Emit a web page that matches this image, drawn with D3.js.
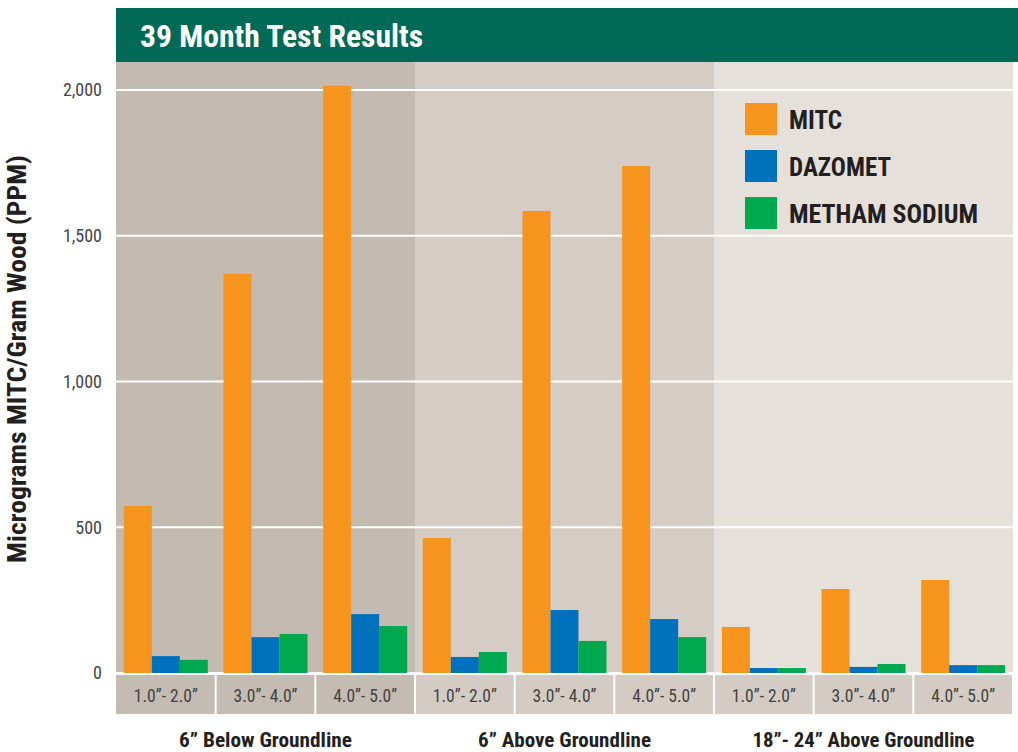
<!DOCTYPE html>
<html><head><meta charset="utf-8">
<script src="https://cdn.jsdelivr.net/npm/d3@7"></script>
<style>
body{margin:0;background:#fff;}
svg text{font-family:"Liberation Sans Narrow","Roboto Condensed","Arial Narrow",sans-serif;}
</style></head><body>
<svg id="c" width="1018" height="752"></svg>
<script>
const categories = ["1.0\u201d- 2.0\u201d","3.0\u201d- 4.0\u201d","4.0\u201d- 5.0\u201d","1.0\u201d- 2.0\u201d","3.0\u201d- 4.0\u201d","4.0\u201d- 5.0\u201d","1.0\u201d- 2.0\u201d","3.0\u201d- 4.0\u201d","4.0\u201d- 5.0\u201d"];
const groups = ["6\u201d Below Groundline","6\u201d Above Groundline","18\u201d- 24\u201d Above Groundline"];
const seriesNames = ["MITC","DAZOMET","METHAM SODIUM"];
const mitc = [573,1369,2014,463,1585,1739,158,288,319];
const dazomet = [58,123,202,55,216,185,17,21,27];
const metham = [45,134,161,72,110,123,17,31,27];
const yTicks = [0,500,1000,1500,2000];

const colors = ["#f7941d","#0071bc","#00a94f"];
const groupBg = ["#c3bab1","#d4ccc5","#e6e0da"];
const boxBg = ["#c4bbb2","#d3cbc4","#d3cbc4"];
const groupLabelW = [173,173,222];
const legendW = [53,102,189];

const svg = d3.select("#c");
const L=116, R=1013, T=62, B=673;
const x = d3.scaleBand().domain(d3.range(categories.length)).range([L,R]).paddingInner(0).paddingOuter(0);
const xs = d3.scaleBand().domain(d3.range(3)).range([0,x.bandwidth()]).paddingInner(0).paddingOuter(0.28);
const y = d3.scaleLinear().domain([0,2000]).range([B,90]);

// title band
svg.append("rect").attr("x",L).attr("y",8).attr("width",1018-L).attr("height",54).attr("fill","#006a56");
svg.append("text").attr("x",140).attr("y",47).attr("fill","#fff").attr("font-size",31).attr("font-weight","bold")
  .attr("textLength",283).attr("lengthAdjust","spacingAndGlyphs").text("39 Month Test Results");

// group backgrounds
groups.forEach((g,i)=>{
  const x0 = x(i*3), x1 = x(i*3+2)+x.bandwidth();
  svg.append("rect").attr("x",x0).attr("y",T).attr("width",x1-x0).attr("height",B-T).attr("fill",groupBg[i]);
  svg.append("text").attr("x",(x0+x1)/2-groupLabelW[i]/2).attr("y",747).attr("font-size",20).attr("font-weight","bold").attr("fill","#231f20")
    .attr("textLength",groupLabelW[i]).attr("lengthAdjust","spacingAndGlyphs").text(g);
});

// gridlines
svg.append("g").selectAll("line").data(yTicks).join("line")
  .attr("x1",L).attr("x2",R).attr("y1",d=>y(d)).attr("y2",d=>y(d)).attr("stroke","#fff").attr("stroke-width",2);

// y axis labels
const yAxis = d3.axisLeft(y).tickValues(yTicks).tickFormat(d3.format(",")).tickSize(0).tickPadding(14);
const ya = svg.append("g").attr("transform",`translate(${L},0)`).call(yAxis);
ya.select(".domain").remove();
ya.selectAll("text").attr("font-size",18).attr("fill","#444").style("font-family","'Liberation Sans Narrow','Roboto Condensed','Arial Narrow',sans-serif");

// y title
svg.append("text").attr("transform","translate(26,563) rotate(-90)").attr("font-size",25).attr("font-weight","bold").attr("fill","#231f20")
  .attr("textLength",408).attr("lengthAdjust","spacingAndGlyphs").text("Micrograms MITC/Gram Wood (PPM)");

// bars
const series = [mitc,dazomet,metham];
series.forEach((vals,s)=>{
  svg.append("g").selectAll("rect").data(vals).join("rect")
    .attr("x",(d,i)=>x(i)+xs(s)).attr("width",xs.bandwidth())
    .attr("y",d=>y(d)).attr("height",d=>B-y(d)).attr("fill",colors[s]);
});

// category boxes
categories.forEach((c,i)=>{
  const gi = Math.floor(i/3);
  svg.append("rect").attr("x",x(i)+(i===0?0:1)).attr("y",675).attr("width",x.bandwidth()-(i===0?1:2)).attr("height",39).attr("fill",boxBg[gi]);
  svg.append("text").attr("x",x(i)+x.bandwidth()/2-32).attr("y",702).attr("font-size",19).attr("fill","#444")
    .attr("textLength",64).attr("lengthAdjust","spacingAndGlyphs").text(c);
});

// legend
const lg = svg.append("g");
seriesNames.forEach((n,i)=>{
  const cy = 119 + i*47;
  lg.append("rect").attr("x",745).attr("y",cy-16).attr("width",32).attr("height",32).attr("fill",colors[i]);
  lg.append("text").attr("x",789).attr("y",cy+10).attr("font-size",26).attr("font-weight","bold").attr("fill","#231f20")
    .attr("textLength",legendW[i]).attr("lengthAdjust","spacingAndGlyphs").text(n);
});
</script></body></html>
